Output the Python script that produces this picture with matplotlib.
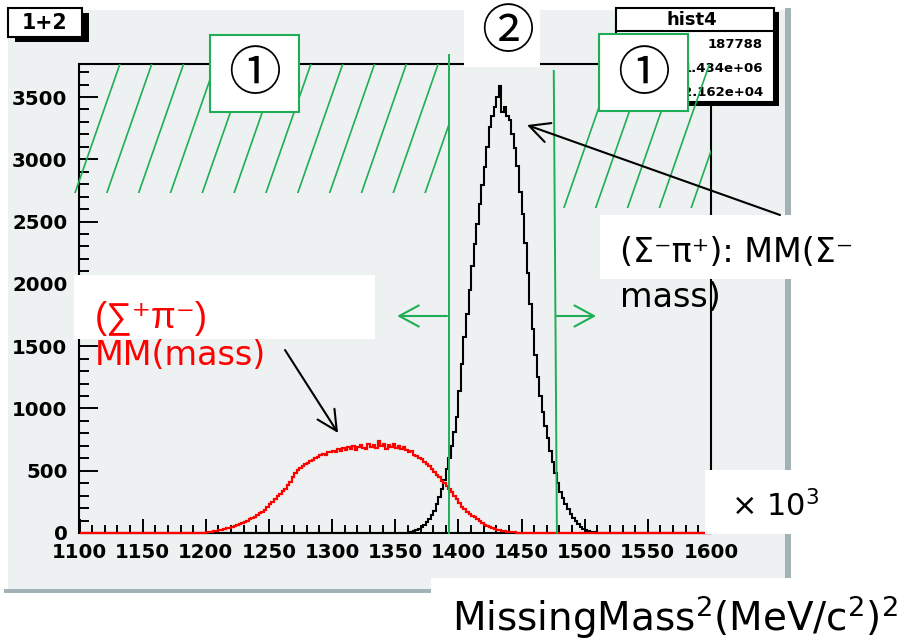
import numpy as np
import matplotlib.pyplot as plt
import matplotlib.transforms as mtransforms
from matplotlib.patches import Rectangle
from matplotlib.ticker import MultipleLocator

# values (x axis in units of 10^3 (MeV/c^2)^2, 2-unit bins)
bin_width = 2
x_range = (1100, 1600)
y_top = 3765

# (Sigma+ pi-) missing mass, red, first bin starts at 1190
red_start = 1190
red_counts = [0, 0, 1, 2, 4, 6, 9, 12, 16, 20,
              24, 28, 33, 38, 44, 50, 56, 64, 72, 80,
              90, 98, 112, 120, 132, 146, 158, 170, 186, 210,
              232, 252, 276, 300, 316, 338, 356, 388, 410, 446,
              478, 506, 524, 536, 550, 562, 574, 590, 600, 614,
              624, 636, 630, 650, 648, 662, 654, 672, 660, 684,
              668, 690, 676, 700, 664, 690, 708, 684, 672, 716,
              690, 706, 680, 740, 696, 712, 676, 704, 690, 716,
              682, 700, 672, 690, 664, 648, 656, 630, 622, 600,
              596, 572, 556, 536, 514, 490, 468, 446, 420, 398,
              376, 350, 330, 300, 270, 240, 212, 190, 172, 156,
              140, 126, 110, 96, 82, 68, 56, 46, 38, 32,
              27, 22, 18, 14, 11, 8, 6, 5, 3, 2,
              1, 1, 0]

# (Sigma- pi+) missing mass, black, first bin starts at 1354
black_start = 1354
black_counts = [0, 1, 3, 6, 10, 16, 24, 34, 48, 66,
                90, 115, 145, 180, 230, 285, 350, 425, 510, 600,
                700, 810, 930, 1140, 1360, 1570, 1760, 1950, 2140, 2320,
                2480, 2640, 2790, 2940, 3100, 3260, 3350, 3420, 3500, 3590,
                3380, 3420, 3350, 3315, 3200, 3090, 2950, 2740, 2560, 2330,
                2090, 1840, 1640, 1430, 1250, 1100, 970, 860, 760, 660,
                570, 480, 400, 330, 280, 230, 190, 150, 120, 95,
                70, 50, 36, 26, 16, 10, 5, 2]

x_ticks = list(range(1100, 1601, 50))
y_ticks = list(range(0, 3501, 500))

# cut lines
cut_low = 1392.5
cut_high_bottom = 1478
cut_high_top = 1475.5

stats_title = "hist4"
stats_values = ["187788", "1.434e+06", "2.162e+04"]

W, H = 903, 641
green = '#1fae55'
gray = '#eef1f2'
border = '#a3b2b6'

edges = np.arange(x_range[0], x_range[1] + bin_width, bin_width)


def full_hist(start, counts):
    h = np.zeros(len(edges) - 1)
    i0 = (start - x_range[0]) // bin_width
    h[i0:i0 + len(counts)] = counts
    return h


red_hist = full_hist(red_start, red_counts)
black_hist = full_hist(black_start, black_counts)

fig = plt.figure(figsize=(W / 100, H / 100), dpi=100)
fig.patch.set_facecolor('white')
# pixel coords, origin top-left
px = mtransforms.Affine2D().scale(1 / W, -1 / H).translate(0, 1) + fig.transFigure

# ROOT canvas
fig.add_artist(Rectangle((8, 10), 777, 579, transform=px, fc=gray, ec='none', zorder=-10))
fig.add_artist(Rectangle((785, 8), 6, 585, transform=px, fc=border, ec='none', zorder=-10))
fig.add_artist(Rectangle((4, 589), 787, 4, transform=px, fc=border, ec='none', zorder=-10))

ax = fig.add_axes([79.5 / W, 1 - 533 / H, (711 - 79.5) / W, (533 - 64) / H])
ax.set_facecolor(gray)
ax.set_xlim(*x_range)
ax.set_ylim(0, y_top)
for s in ax.spines.values():
    s.set_linewidth(1.5)
    s.set_color('black')

ax.set_xticks(x_ticks, labels=[str(t) for t in x_ticks], fontweight='bold', fontsize=14.2)
ax.set_yticks(y_ticks, labels=[str(t) for t in y_ticks], fontweight='bold', fontsize=14.2)
ax.xaxis.set_minor_locator(MultipleLocator(10))
ax.yaxis.set_minor_locator(MultipleLocator(100))
ax.tick_params(axis='x', which='major', direction='in', length=10, width=1.4, pad=7)
ax.tick_params(axis='x', which='minor', direction='in', length=5.8, width=1.4)
ax.tick_params(axis='y', which='major', direction='in', length=13.7, width=1.4, pad=8.6)
ax.tick_params(axis='y', which='minor', direction='in', length=7, width=1.4)

# histograms
ax.stairs(black_hist, edges, color='black', lw=1.5, zorder=2.8, clip_on=False)
ax.stairs(red_hist, edges, color='#ff0000', lw=1.6, zorder=3, clip_on=False)

# stats box
ax.add_patch(Rectangle((621, 12), 158, 94, transform=px, fc='black', ec='none', zorder=4, clip_on=False))
ax.add_patch(Rectangle((616, 8), 158, 94, transform=px, fc='white', ec='black', lw=1.5, zorder=4.1, clip_on=False))
ax.plot([616, 774], [31, 31], transform=px, color='black', lw=1.5, zorder=4.2, clip_on=False)
ax.text(692, 20, stats_title, transform=px, ha='center', va='center', fontsize=13, fontweight='bold', zorder=4.3)
for i, v in enumerate(stats_values):
    ax.text(763, 45 + 23.5 * i, v, transform=px, ha='right', va='center', fontsize=9.5, fontweight='bold', zorder=4.3)

# hatched side-band regions
hatch_dx = 25.2          # spacing along x
hatch_slant = 35.6 / 1036  # x shift per unit of y


def hatch(x0, x1, y0, first):
    clip = Rectangle((x0, y0), x1 - x0, y_top - y0, transform=ax.transData, fc='none', ec='none')
    ax.add_patch(clip)
    xb = first
    while xb < x1:
        ln, = ax.plot([xb, xb + hatch_slant * (y_top - y0)], [y0, y_top], color=green, lw=1.2,
                      zorder=6, clip_on=True)
        ln.set_clip_path(clip)
        xb += hatch_dx


hatch(1094, cut_low, 2729, 1096.4)
hatch(cut_high_top, x_range[1], 2609, 1483.5)

# cut lines and arrows
ax.plot([cut_low, cut_low], [0, 3837], color=green, lw=1.4, zorder=6, clip_on=False)
ax.plot([cut_high_bottom, cut_high_top], [0, 3709], color=green, lw=1.4, zorder=6, clip_on=False)
arrow_y = 1742
green_arrow = dict(arrowstyle='->,head_length=0.7,head_width=0.38', color=green, lw=1.5,
                   mutation_scale=20, shrinkA=0, shrinkB=0)
ax.annotate('', xy=(cut_low - 41, arrow_y), xytext=(cut_low - 1.5, arrow_y), arrowprops=green_arrow, zorder=6)
ax.annotate('', xy=(cut_high_bottom + 31, arrow_y), xytext=(cut_high_bottom, arrow_y), arrowprops=green_arrow, zorder=6)

# white boxes
for (bx, by, bw, bh) in [(464, 0, 76, 67), (600, 215, 303, 64), (74, 275, 301, 64),
                         (705, 470, 198, 64), (431, 578, 472, 63)]:
    ax.add_patch(Rectangle((bx, by), bw, bh, transform=px, fc='white', ec='none', zorder=7, clip_on=False))
for (bx, by) in [(210, 35), (599, 34)]:
    ax.add_patch(Rectangle((bx, by), 89, 77, transform=px, fc='white', ec=green, lw=1.5, zorder=7, clip_on=False))

circ_font = ['Noto Sans CJK JP', 'DejaVu Sans']
ax.text(254.5, 74, '①', transform=px, ha='center', va='center', fontsize=38, family=circ_font, zorder=8)
ax.text(643.5, 74, '①', transform=px, ha='center', va='center', fontsize=38, family=circ_font, zorder=8)
ax.text(508, 32, '②', transform=px, ha='center', va='center', fontsize=38, family=circ_font, zorder=8)

# title box "1+2"
ax.add_patch(Rectangle((15, 13), 74, 29, transform=px, fc='black', ec='none', zorder=8, clip_on=False))
ax.add_patch(Rectangle((8, 8), 74, 29, transform=px, fc='white', ec='black', lw=1.5, zorder=8.1, clip_on=False))
ax.text(45, 23, '1+2', transform=px, ha='center', va='center', fontsize=14.8, fontweight='bold', zorder=8.2)

# labels with arrows
black_arrow = dict(arrowstyle='->,head_length=0.72,head_width=0.36', color='black', lw=1.5,
                   mutation_scale=20, shrinkA=0, shrinkB=0)
ax.annotate('', xy=(1454.3, 3275), xytext=(780, 215), textcoords=px, arrowprops=black_arrow, zorder=9)
ax.annotate('', xy=(1304.7, 803), xytext=(285, 350), textcoords=px, arrowprops=black_arrow, zorder=9)

lab_font = ['Liberation Sans', 'DejaVu Sans']
ax.text(95, 328, '(∑⁺π⁻)', transform=px, color='#ff0000', fontsize=26, family=lab_font,
        va='baseline', zorder=10)
ax.text(95, 365, 'MM(mass)', transform=px, color='#ff0000', fontsize=24, va='baseline', zorder=10)
ax.text(620, 262, '(Σ⁻π⁺): MM(Σ⁻', transform=px, color='black', fontsize=24, va='baseline', zorder=10)
ax.text(620, 307, 'mass)', transform=px, color='black', fontsize=24, va='baseline', zorder=10)
ax.text(731, 516, '× 10$^{3}$', transform=px, color='black', fontsize=22, va='baseline', zorder=10)
ax.text(452, 631, 'MissingMass$^{2}$(MeV/c$^{2}$)$^{2}$', transform=px, color='black', fontsize=28,
        va='baseline', zorder=10)

fig.savefig('out.png', dpi=100)
